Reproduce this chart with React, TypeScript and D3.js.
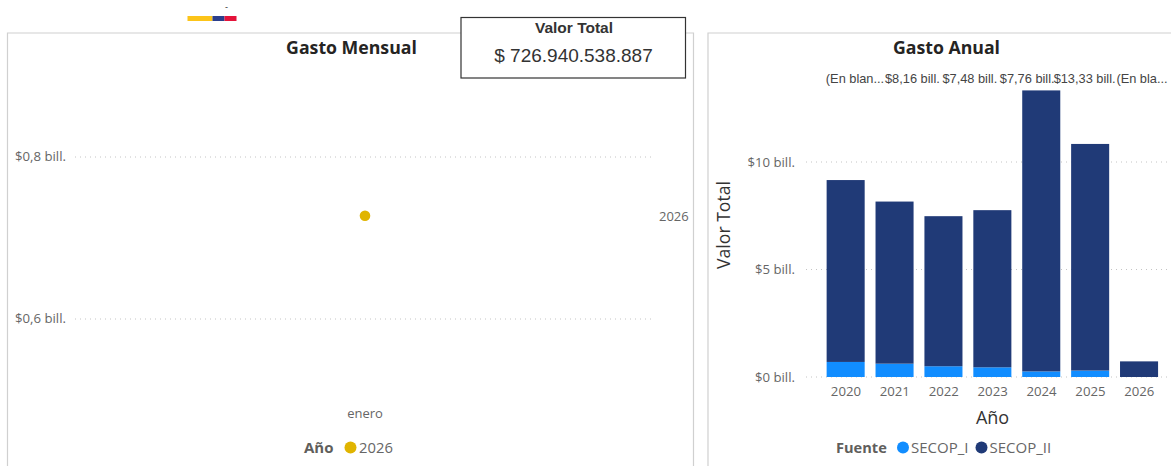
import React from "react";
import * as d3 from "d3";

const years = ["2020", "2021", "2022", "2023", "2024", "2025", "2026"];
const secopI = [0.7, 0.62, 0.5, 0.45, 0.26, 0.3, 0];
const secopII = [8.46, 7.54, 6.98, 7.31, 13.07, 10.54, 0.727];
const barLabels = ["(En blan...", "$8,16 bill.", "$7,48 bill.", "$7,76 bill.", "$13,33 bill.", "(En bla..."];
const annualTicks = [0, 5, 10];
const monthlyTicks = [0.6, 0.8];
const months = ["enero"];
const monthlyValues = [0.72694];
const flag = [
  { c: "#fcc419", w: 25 },
  { c: "#2b3f8c", w: 12 },
  { c: "#e4133a", w: 12 },
];

const UI = "'Open Sans', 'Noto Sans', sans-serif";
const ARIAL = "'Liberation Sans', Arial, sans-serif";
const GREY = "#666666";
const BLUE = "#118DFF";
const NAVY = "#203A77";
const GOLD = "#E0B400";

export default function App() {
  const yA = d3.scaleLinear().domain([0, 10]).range([377, 162]);
  const xA = d3.scaleBand().domain(years).range([821.5, 1163.8]).paddingInner(0.222).paddingOuter(0.111);
  const xL = d3.scalePoint().domain(barLabels).range([855, 1142]);
  const stack = d3.stack<number>().keys(["a", "b"]).value((i, k) => (k === "a" ? secopI[i] : secopII[i]));
  const layers = stack(d3.range(years.length));
  const yM = d3.scaleLinear().domain([0.6, 0.8]).range([319, 157]);
  const xM = d3.scalePoint().domain(months).range([365, 365]);

  let fx = 187.5;
  return (
    <svg
      width={1171}
      height={466}
      style={{ position: "absolute", left: 0, top: 0, background: "#fff", display: "block" }}
    >
      {/* flag */}
      {flag.map((f) => {
        const x = fx;
        fx += f.w;
        return <rect key={f.c} x={x} y={16} width={f.w} height={5} fill={f.c} />;
      })}
      <text x={226.5} y={10} fontSize={9} fontFamily={ARIAL} textAnchor="middle" fill="#333">-</text>

      {/* panels */}
      <path d="M7.5,466 V33 H693.5 V466" fill="none" stroke="#d0d0d0" strokeWidth={1.2} />
      <path d="M708,466 V33 H1171" fill="none" stroke="#d0d0d0" strokeWidth={1.2} />

      {/* monthly */}
      <text x={351.5} y={54} fontSize={17.7} fontWeight={700} fontFamily={UI} textAnchor="middle" fill="#252423">Gasto Mensual</text>
      {monthlyTicks.map((t) => (
        <g key={t}>
          <line x1={75} x2={652} y1={yM(t)} y2={yM(t)} stroke="#c4c4c4" strokeWidth={1} strokeDasharray="1 4" />
          <text x={66} y={yM(t) + 3.5} fontSize={13.2} fontFamily={UI} textAnchor="end" fill={GREY}>
            {"$" + String(t).replace(".", ",") + " bill."}
          </text>
        </g>
      ))}
      {months.map((m, i) => (
        <g key={m}>
          <circle cx={xM(m)} cy={yM(monthlyValues[i]) - 0.5} r={5.3} fill={GOLD} />
          <text x={xM(m)} y={418} fontSize={13} fontFamily={UI} textAnchor="middle" fill={GREY}>{m}</text>
        </g>
      ))}
      <text x={659} y={221} fontSize={13} fontFamily={UI} fill={GREY}>2026</text>
      <text x={304} y={453} fontSize={15} fontWeight={700} fontFamily={UI} fill="#605E5C">Año</text>
      <circle cx={350.5} cy={447.5} r={6} fill={GOLD} />
      <text x={359} y={453} fontSize={14.8} fontFamily={UI} fill={GREY}>2026</text>

      {/* KPI */}
      <rect x={461} y={17.5} width={224.5} height={60.5} fill="#fff" stroke="#333" strokeWidth={1.2} />
      <text x={574} y={32.5} fontSize={15.5} fontWeight={700} fontFamily={ARIAL} textAnchor="middle" fill="#333">Valor Total</text>
      <text x={573.5} y={62} fontSize={19} fontFamily={ARIAL} textAnchor="middle" fill="#333">$ 726.940.538.887</text>

      {/* annual */}
      <text x={946.5} y={54} fontSize={17.7} fontWeight={700} fontFamily={UI} textAnchor="middle" fill="#252423">Gasto Anual</text>
      {annualTicks.map((t) => (
        <g key={t}>
          <line x1={806} x2={1168} y1={yA(t)} y2={yA(t)} stroke="#c4c4c4" strokeWidth={1} strokeDasharray="1 4" />
          <text x={795} y={yA(t) + 4.5} fontSize={13.2} fontFamily={UI} textAnchor="end" fill={GREY}>{`$${t} bill.`}</text>
        </g>
      ))}
      {layers.map((l, li) =>
        l.map((d, i) => (
          <rect
            key={li + "-" + i}
            x={xA(years[i])! - 0.3}
            width={xA.bandwidth()}
            y={yA(d[1])}
            height={Math.max(0, yA(d[0]) - yA(d[1]))}
            fill={li === 0 ? BLUE : NAVY}
          />
        ))
      )}
      {barLabels.map((s) => (
        <text key={s} x={xL(s)} y={83} fontSize={12.8} fontFamily={ARIAL} textAnchor="middle" fill="#444">{s}</text>
      ))}
      {years.map((y) => (
        <text key={y} x={xA(y)! + xA.bandwidth() / 2} y={396} fontSize={13.2} fontFamily={UI} textAnchor="middle" fill={GREY}>{y}</text>
      ))}
      <text x={992.5} y={424} fontSize={18} fontFamily={UI} textAnchor="middle" fill="#333">Año</text>
      <text transform="translate(729.5,225) rotate(-90)" fontSize={17.6} fontFamily={UI} textAnchor="middle" fill="#333">Valor Total</text>
      <text x={836} y={453} fontSize={14.6} fontWeight={700} fontFamily={UI} fill="#605E5C">Fuente</text>
      <circle cx={903} cy={447.5} r={6} fill={BLUE} />
      <text x={911} y={453} fontSize={15} fontFamily={UI} fill={GREY}>SECOP_I</text>
      <circle cx={981.5} cy={447.5} r={6} fill={NAVY} />
      <text x={989.5} y={453} fontSize={15} fontFamily={UI} fill={GREY}>SECOP_II</text>
    </svg>
  );
}
